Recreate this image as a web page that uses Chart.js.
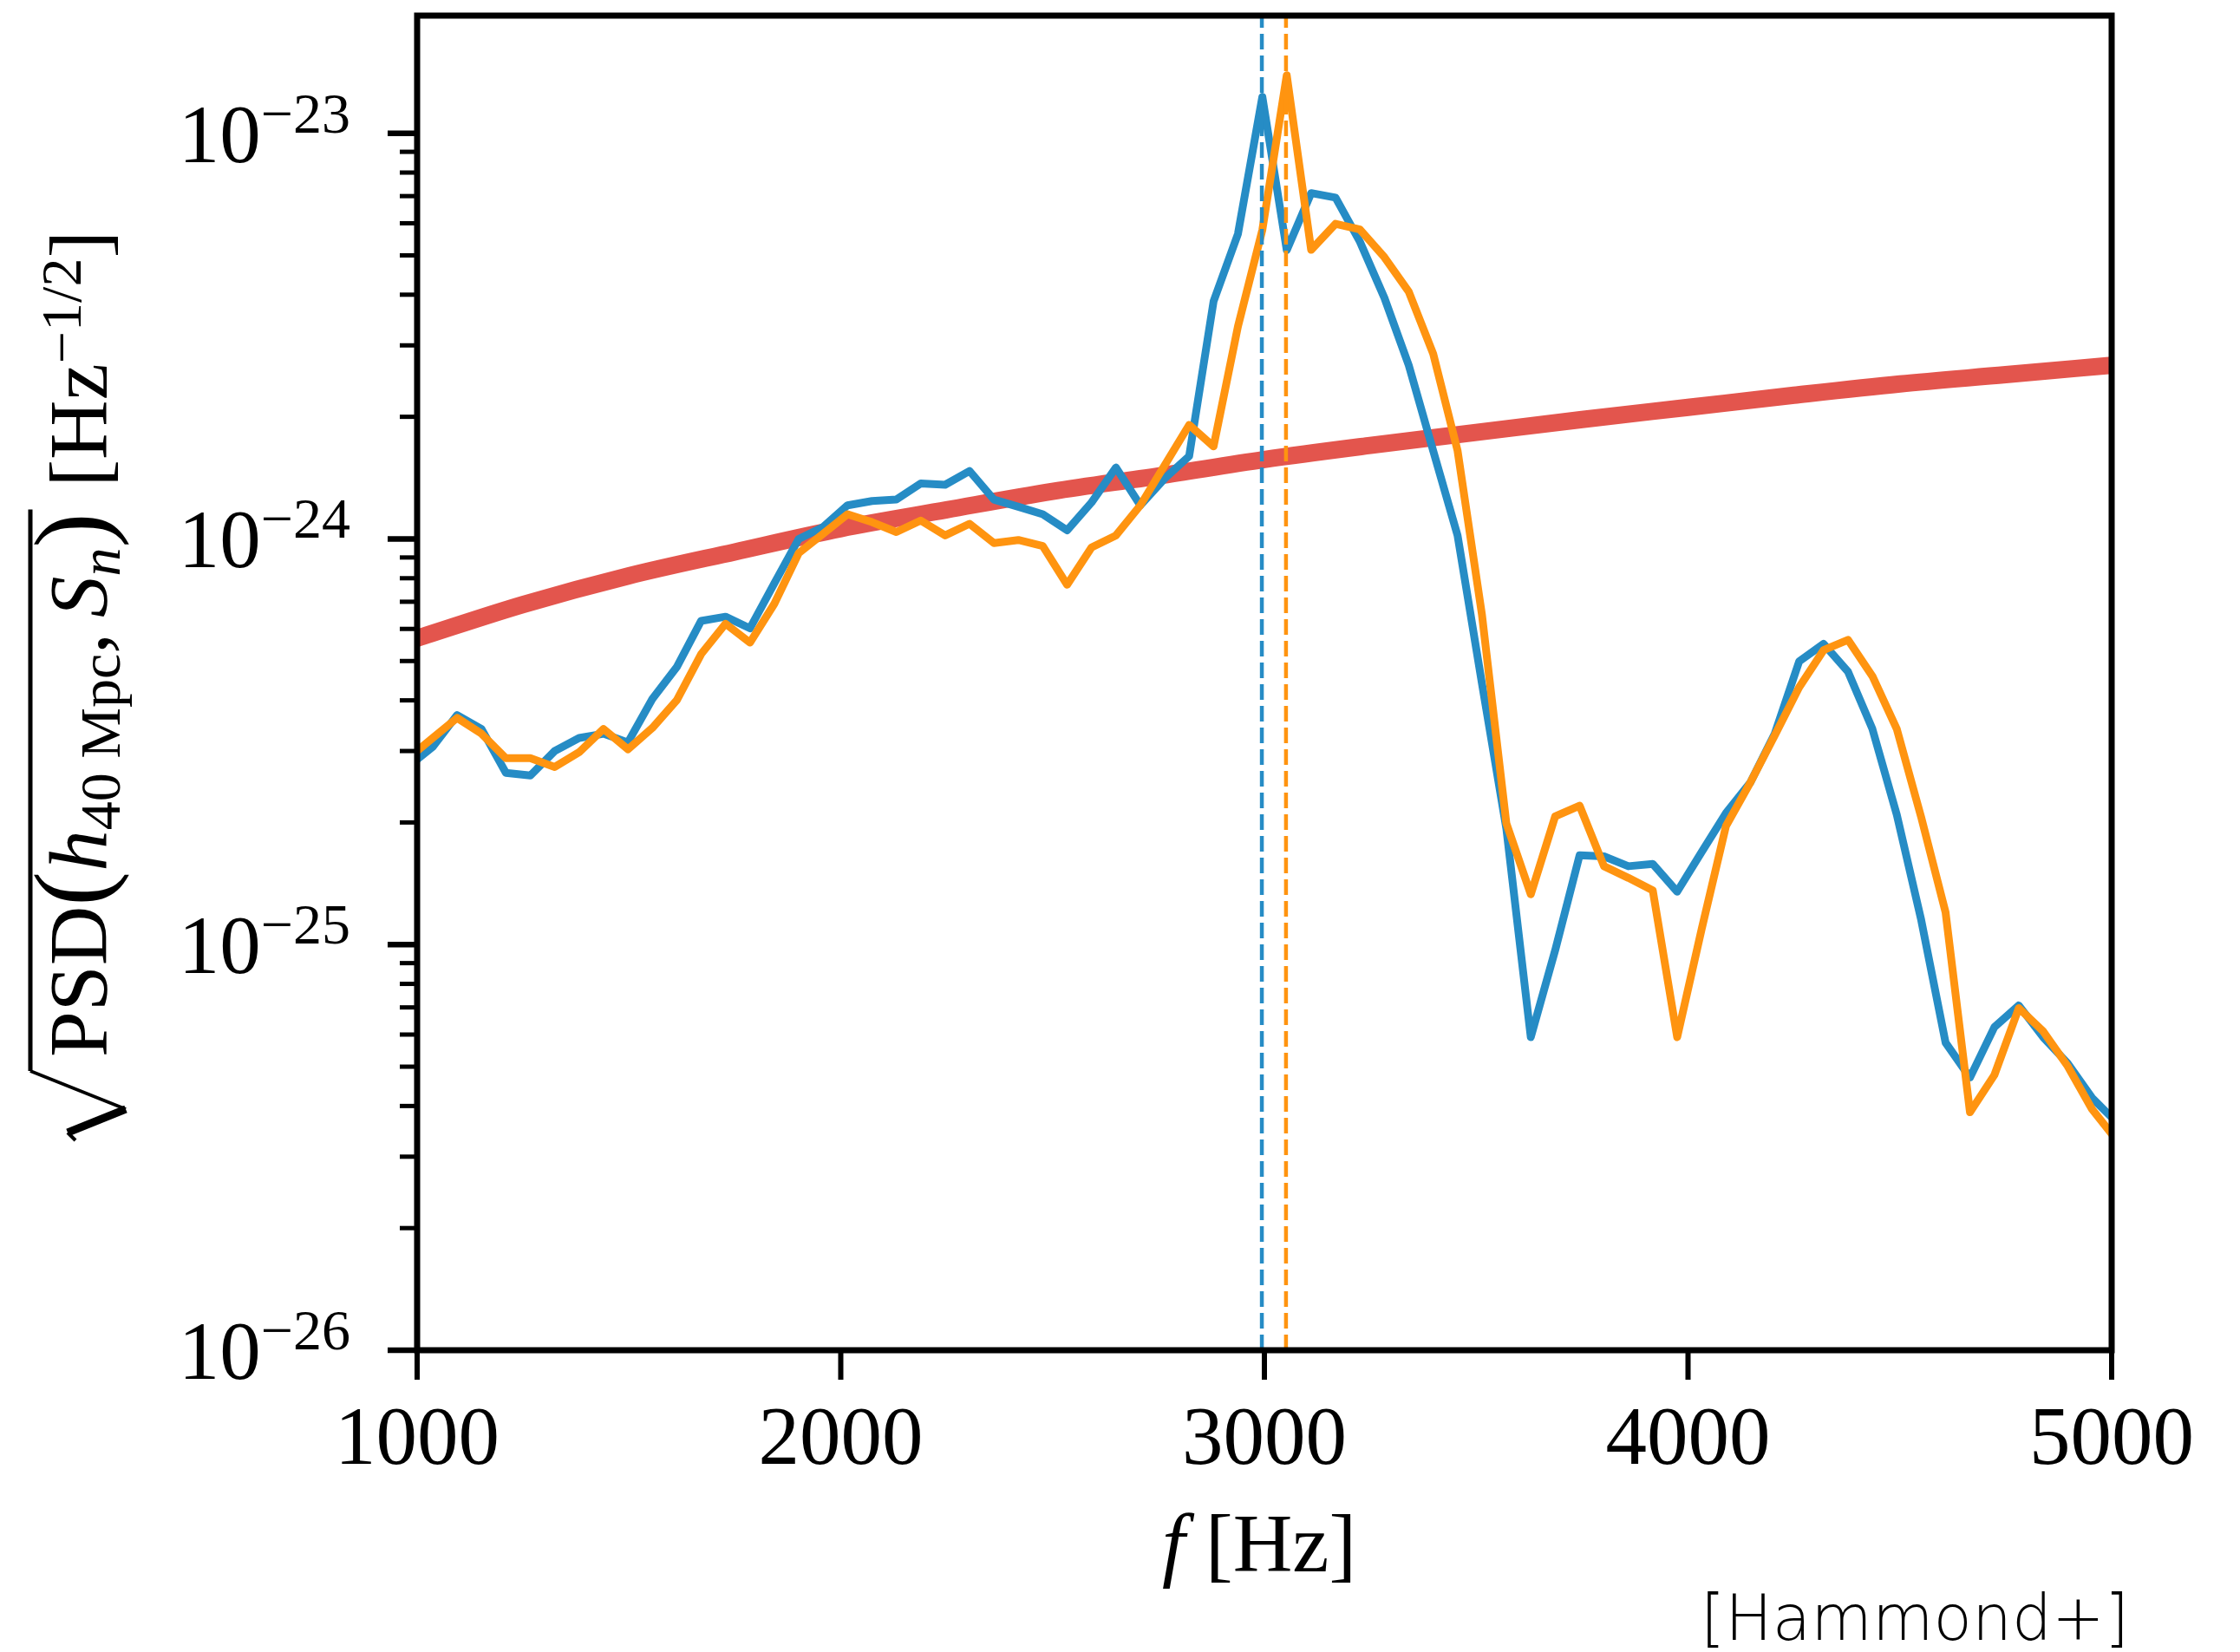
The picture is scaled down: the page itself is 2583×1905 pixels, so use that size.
<!DOCTYPE html>
<html>
<head>
<meta charset="utf-8">
<script src="https://cdn.jsdelivr.net/npm/chart.js"></script>
<style>
  html, body { margin: 0; padding: 0; background: #fff; }
  canvas { display: block; }
</style>
</head>
<body>
<canvas id="psdChart" width="2583" height="1905"></canvas>
<script>
// frequency grid of the two spectra [Hz]
const freqs = [
  979.2, 1036.8, 1094.4, 1152.0, 1209.6, 1267.2, 1324.8, 1382.4, 1440.0, 1497.6,
  1555.2, 1612.8, 1670.4, 1728.0, 1785.6, 1843.2, 1900.8, 1958.4, 2016.0, 2073.6,
  2131.2, 2188.8, 2246.4, 2304.0, 2361.6, 2419.2, 2476.8, 2534.4, 2592.0, 2649.6,
  2707.2, 2764.8, 2822.4, 2880.0, 2937.6, 2995.2, 3052.8, 3110.4, 3168.0, 3225.6,
  3283.2, 3340.8, 3398.4, 3456.0, 3513.6, 3571.2, 3628.8, 3686.4, 3744.0, 3801.6,
  3859.2, 3916.8, 3974.4, 4032.0, 4089.6, 4147.2, 4204.8, 4262.4, 4320.0, 4377.6,
  4435.2, 4492.8, 4550.4, 4608.0, 4665.6, 4723.2, 4780.8, 4838.4, 4896.0, 4953.6,
  5011.2
];

const blueAsd = [
  2.75e-25, 3.07e-25, 3.68e-25, 3.40e-25, 2.65e-25, 2.61e-25, 3.00e-25, 3.23e-25, 3.31e-25, 3.15e-25,
  4.03e-25, 4.83e-25, 6.28e-25, 6.43e-25, 6.02e-25, 7.77e-25, 1.00e-24, 1.07e-24, 1.21e-24, 1.24e-24,
  1.25e-24, 1.37e-24, 1.36e-24, 1.47e-24, 1.25e-24, 1.20e-24, 1.15e-24, 1.05e-24, 1.23e-24, 1.50e-24,
  1.21e-24, 1.41e-24, 1.60e-24, 3.85e-24, 5.65e-24, 1.23e-23, 5.15e-24, 7.12e-24, 6.94e-24, 5.40e-24,
  3.93e-24, 2.68e-24, 1.65e-24, 1.02e-24, 4.40e-25, 1.93e-25, 5.91e-26, 9.68e-26, 1.66e-25, 1.65e-25,
  1.56e-25, 1.58e-25, 1.35e-25, 1.69e-25, 2.11e-25, 2.51e-25, 3.31e-25, 4.99e-25, 5.51e-25, 4.71e-25,
  3.40e-25, 2.09e-25, 1.15e-25, 5.73e-26, 4.70e-26, 6.26e-26, 7.08e-26, 5.91e-26, 5.10e-26, 4.19e-26,
  3.65e-26
];

const orangeAsd = [
  2.88e-25, 3.23e-25, 3.62e-25, 3.31e-25, 2.88e-25, 2.88e-25, 2.74e-25, 2.98e-25, 3.40e-25, 3.03e-25,
  3.42e-25, 4.00e-25, 5.20e-25, 6.18e-25, 5.55e-25, 6.92e-25, 9.23e-25, 1.03e-24, 1.15e-24, 1.10e-24,
  1.04e-24, 1.11e-24, 1.02e-24, 1.09e-24, 9.77e-25, 9.94e-25, 9.61e-25, 7.71e-25, 9.53e-25, 1.02e-24,
  1.21e-24, 1.52e-24, 1.91e-24, 1.69e-24, 3.34e-24, 5.78e-24, 1.39e-23, 5.16e-24, 5.98e-24, 5.79e-24,
  4.95e-24, 4.07e-24, 2.86e-24, 1.65e-24, 6.50e-25, 1.99e-25, 1.33e-25, 2.07e-25, 2.20e-25, 1.56e-25,
  1.46e-25, 1.36e-25, 5.91e-26, 1.09e-25, 1.96e-25, 2.51e-25, 3.28e-25, 4.31e-25, 5.32e-25, 5.64e-25,
  4.59e-25, 3.40e-25, 2.06e-25, 1.20e-25, 3.86e-26, 4.77e-26, 6.97e-26, 6.11e-26, 5.02e-26, 3.93e-26,
  3.30e-26
];

// detector noise curve
const noiseFreqs = [1000, 1250, 1500, 1750, 2000, 2250, 2500, 2750, 3000, 3250, 3500, 3750, 4000, 4250, 4500, 4750, 5000];
const noiseAsd = [
  5.69e-25, 6.89e-25, 8.11e-25, 9.29e-25, 1.06e-24, 1.18e-24, 1.31e-24, 1.43e-24, 1.57e-24,
  1.70e-24, 1.83e-24, 1.97e-24, 2.11e-24, 2.26e-24, 2.41e-24, 2.54e-24, 2.68e-24
];

// peak frequencies (dashed lines)
const bluePeak = 2994;
const orangePeak = 3051;

const xTicks = [1000, 2000, 3000, 4000, 5000];
const yDecades = [-26, -25, -24, -23];
const yMin = 1e-26;
const yMax = 1.95e-23;

const BLUE = '#268cc5';
const ORANGE = '#ff9410';
const RED = '#e3554d';
const serif = '"Liberation Serif", "Times New Roman", serif';

function pts(xs, ys) {
  return xs.map((f, i) => ({x: f, y: ys[i]}));
}

function seg(ctx, x1, y1, x2, y2) {
  ctx.beginPath();
  ctx.moveTo(x1, y1);
  ctx.lineTo(x2, y2);
  ctx.stroke();
}

// axes frame, ticks and all the text
const frame = {
  id: 'frame',
  afterDatasetsDraw(chart) {
    const {ctx, chartArea: a} = chart;
    const x = chart.scales.x, y = chart.scales.y;
    ctx.save();
    ctx.strokeStyle = '#000';
    ctx.fillStyle = '#000';
    ctx.lineCap = 'butt';

    ctx.lineWidth = 7;
    ctx.strokeRect(a.left, a.top, a.right - a.left, a.bottom - a.top);

    // x ticks + labels
    ctx.font = '95px ' + serif;
    ctx.textAlign = 'center';
    ctx.textBaseline = 'alphabetic';
    xTicks.forEach(v => {
      const px = x.getPixelForValue(v);
      ctx.lineWidth = 6;
      seg(ctx, px, a.bottom, px, a.bottom + 34);
      ctx.fillText(String(v), px, a.bottom + 131);
    });

    // y ticks (decades + minor) and labels
    ctx.textAlign = 'left';
    yDecades.forEach(e => {
      for (let m = 1; m <= 9; m++) {
        const v = m * Math.pow(10, e);
        if (v > yMax) continue;
        const py = y.getPixelForValue(v);
        ctx.lineWidth = m === 1 ? 6.5 : 5;
        seg(ctx, a.left - (m === 1 ? 34 : 20), py, a.left, py);
      }
      const py = y.getPixelForValue(Math.pow(10, e));
      const sup = '\u2212' + String(-e);
      ctx.font = '95px ' + serif;
      const wb = ctx.measureText('10').width;
      ctx.font = '66px ' + serif;
      const ws = ctx.measureText(sup).width;
      const right = a.left - 77;
      ctx.font = '95px ' + serif;
      ctx.fillText('10', right - ws - wb, py + 33);
      ctx.font = '66px ' + serif;
      ctx.fillText(sup, right - ws, py - 1);
    });

    // x title: f [Hz]
    ctx.font = 'italic 95px ' + serif;
    const wf = ctx.measureText('f').width;
    ctx.font = '95px ' + serif;
    const wr = ctx.measureText(' [Hz]').width;
    let tx = (a.left + a.right) / 2 - 6 - (wf + wr) / 2;
    ctx.font = 'italic 95px ' + serif;
    ctx.fillText('f', tx, a.bottom + 255);
    ctx.font = '95px ' + serif;
    ctx.fillText(' [Hz]', tx + wf, a.bottom + 255);

    // y title: sqrt(PSD(h_40Mpc, S_n)) [Hz^-1/2], rotated
    const runs = [
      {t: 'PSD', f: '95px ' + serif},
      {t: '(', f: '120px ' + serif},
      {t: 'h', f: 'italic 95px ' + serif},
      {t: '40 Mpc', f: '66px ' + serif, dy: 15},
      {t: ',', f: '95px ' + serif, pad: 18},
      {t: 'S', f: 'italic 95px ' + serif},
      {t: 'n', f: 'italic 66px ' + serif, dy: 15},
      {t: ')', f: '120px ' + serif, endRoot: true},
      {t: '[Hz', f: '95px ' + serif, pre: 30},
      {t: '\u22121/2', f: '66px ' + serif, dy: -30},
      {t: ']', f: '95px ' + serif}
    ];
    const rootW = 96;
    let total = rootW;
    runs.forEach(r => {
      ctx.font = r.f;
      r.w = ctx.measureText(r.t).width;
      total += (r.pre || 0) + r.w + (r.pad || 0);
    });
    const cy = (a.top + a.bottom) / 2 + 3;
    ctx.translate(123, cy + total / 2);
    ctx.rotate(-Math.PI / 2);
    let u = rootW, rootEnd = 0;
    runs.forEach(r => {
      u += r.pre || 0;
      ctx.font = r.f;
      ctx.fillText(r.t, u, r.dy || 0);
      u += r.w + (r.pad || 0);
      if (r.endRoot) rootEnd = u + 4;
    });
    // radical sign
    ctx.lineJoin = 'miter';
    ctx.lineWidth = 4;
    seg(ctx, 0, -36, 9, -45);
    ctx.lineWidth = 9;
    seg(ctx, 9, -45, 36, 22);
    ctx.lineWidth = 4;
    seg(ctx, 36, 22, 80, -88);
    ctx.lineWidth = 5;
    seg(ctx, 80, -88, rootEnd, -88);
    ctx.restore();

    // credit, stretched to the reference box
    ctx.save();
    ctx.fillStyle = '#000';
    ctx.textAlign = 'left';
    ctx.textBaseline = 'alphabetic';
    ctx.font = '200 73px "DejaVu Sans"';
    const wh = ctx.measureText('[Hammond+]').width;
    const sx = 494 / wh;
    ctx.translate(2455 - 494, 1891);
    ctx.scale(sx, 1);
    ctx.fillText('[Hammond+]', 0, 0);
    ctx.restore();
  }
};

new Chart(document.getElementById('psdChart'), {
  type: 'line',
  data: {
    datasets: [
      {
        label: 'blue peak',
        data: [{x: bluePeak, y: yMin}, {x: bluePeak, y: yMax}],
        borderColor: BLUE,
        borderWidth: 4.5,
        borderDash: [18, 7],
        pointRadius: 0,
        order: 0
      },
      {
        label: 'orange peak',
        data: [{x: orangePeak, y: yMin}, {x: orangePeak, y: yMax}],
        borderColor: ORANGE,
        borderWidth: 4.5,
        borderDash: [18, 7],
        pointRadius: 0,
        order: 0
      },
      {
        label: 'orange',
        data: pts(freqs, orangeAsd),
        borderColor: ORANGE,
        borderWidth: 9,
        borderJoinStyle: 'round',
        pointRadius: 0,
        order: 1
      },
      {
        label: 'blue',
        data: pts(freqs, blueAsd),
        borderColor: BLUE,
        borderWidth: 9,
        borderJoinStyle: 'round',
        pointRadius: 0,
        order: 2
      },
      {
        label: 'noise',
        data: pts(noiseFreqs, noiseAsd),
        borderColor: RED,
        borderWidth: 20,
        cubicInterpolationMode: 'monotone',
        pointRadius: 0,
        order: 3
      }
    ]
  },
  options: {
    responsive: false,
    animation: false,
    layout: {padding: {left: 481, right: 148, top: 18, bottom: 348}},
    plugins: {
      legend: {display: false},
      tooltip: {enabled: false}
    },
    scales: {
      x: {type: 'linear', min: 1000, max: 5000, display: false},
      y: {type: 'logarithmic', min: yMin, max: yMax, display: false}
    }
  },
  plugins: [frame]
});
</script>
</body>
</html>
